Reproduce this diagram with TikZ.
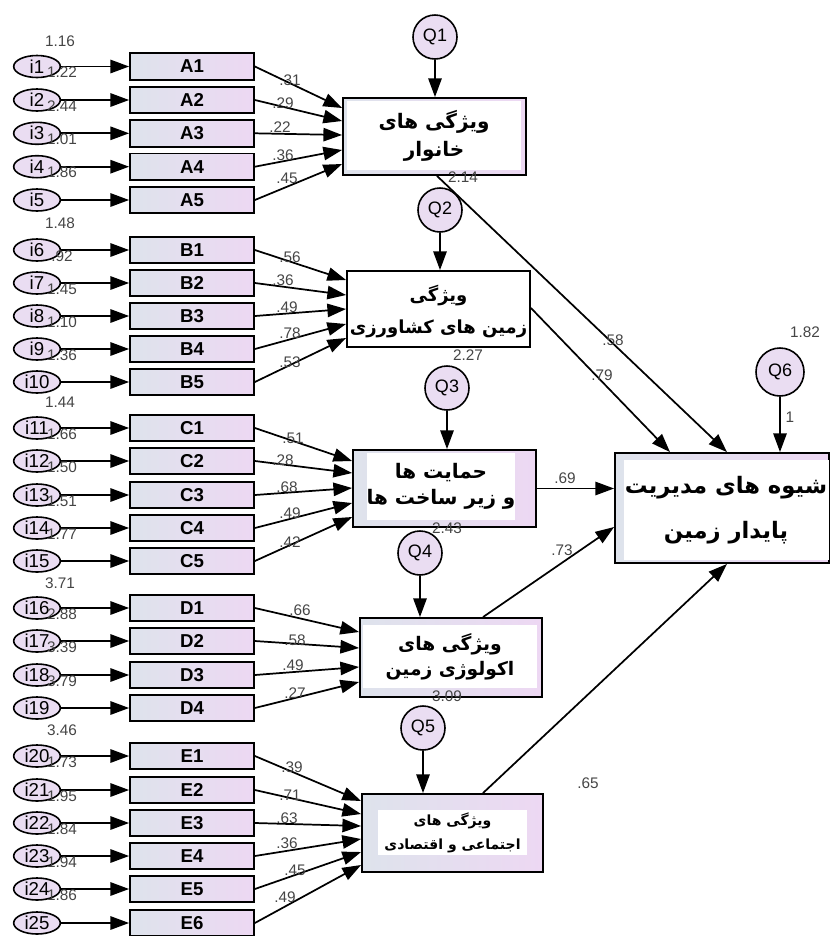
\documentclass[tikz,border=0pt]{standalone}
\usepackage{fontspec}
\setmainfont{Liberation Sans}
\newfontfamily\arfont[Script=Arabic]{DejaVu Sans}
\TeXXeTstate=1
\usetikzlibrary{arrows.meta,calc,shapes.geometric}
\definecolor{numc}{HTML}{454545}
\definecolor{obsL}{HTML}{DEE3EC}
\definecolor{obsR}{HTML}{EDD8F3}
\definecolor{lav}{HTML}{EADDF2}
\begin{document}
\begin{tikzpicture}[x=0.75pt,y=-0.75pt,
  obs/.style={draw, line width=1.3pt, minimum width=93pt, minimum height=20pt, inner sep=0pt,
    left color=obsL, right color=obsR, font=\fontsize{14}{14}\selectfont\bfseries},
  err/.style={ellipse, draw, line width=1.2pt, minimum width=35pt, minimum height=16.5pt, inner sep=0pt,
    fill=lav, font=\fontsize{14}{14}\selectfont},
  res/.style={circle, draw, line width=1.2pt, minimum size=33pt, inner sep=0pt, fill=lav,
    font=\fontsize{13.5}{13.5}\selectfont},
  lat/.style={draw, line width=1.4pt, inner sep=0pt, left color=obsL, right color=obsR},
  latw/.style={draw, line width=1.4pt, inner sep=0pt, fill=white},
  txt/.style={fill=white, inner sep=0pt, align=center},
  num/.style={text=numc, font=\fontsize{11.5}{11.5}\selectfont, inner sep=0pt},
  arr/.style={line width=1.3pt, -{Triangle[length=14pt,width=10pt]}},
]
\useasboundingbox (0,0) rectangle (830,936);

% observed variables and error terms
\foreach \k/\n/\y in {1/A1/66.5,2/A2/100,3/A3/133.3,4/A4/166.7,5/A5/200,
  6/B1/250,7/B2/283,8/B3/316,9/B4/349,10/B5/382,
  11/C1/428,12/C2/461,13/C3/495,14/C4/528,15/C5/561,
  16/D1/608,17/D2/641,18/D3/675,19/D4/708,
  20/E1/756,21/E2/790,22/E3/823,23/E4/856,24/E5/889,25/E6/923}{
  \node[err] (i\k) at (37,\y) {i\k};
  \node[obs] (\n) at (192,\y) {\n};
  \draw[arr] (i\k.east) -- (\n.west);
}

% latent boxes
\node[lat, minimum width=137.25pt, minimum height=57.75pt] (L1) at (434.5,136.5) {};
\node[txt, minimum width=130.5pt, minimum height=51.75pt, font=\arfont\bfseries\fontsize{15}{21}\selectfont] (L1t) at (434,135.5)
  {\beginR ویژگی های\endR\\\beginR خانوار\endR};

\node[latw, minimum width=137.25pt, minimum height=57pt] (L2) at (438.5,309) {};
\node[align=center, inner sep=0pt, font=\arfont\bfseries\fontsize{13.5}{24}\selectfont] (L2t) at (438.5,311.5)
  {\beginR ویژگی\endR\\\beginR زمین های کشاورزی\endR};

\node[lat, minimum width=137.25pt, minimum height=57.75pt] (L3) at (444.5,488.5) {};
\node[txt, minimum width=111pt, minimum height=50.25pt, font=\arfont\bfseries\fontsize{15}{20}\selectfont] (L3t) at (441,486.5)
  {\beginR حمایت ها\endR\\\beginR و زیر ساخت ها\endR};

\node[lat, minimum width=136.5pt, minimum height=59.25pt] (L4) at (451,657.5) {};
\node[txt, minimum width=130.5pt, minimum height=47.25pt, font=\arfont\bfseries\fontsize{14}{19}\selectfont] (L4t) at (450,656.5)
  {\beginR ویژگی های\endR\\\beginR اکولوژی زمین\endR};

\node[lat, minimum width=135.75pt, minimum height=58.5pt] (L5) at (452.5,833) {};
\node[txt, minimum width=111.75pt, minimum height=33.75pt, font=\arfont\bfseries\fontsize{10.5}{18}\selectfont] (L5t) at (452.5,832.5)
  {\beginR ویژگی های\endR\\\beginR اجتماعی و اقتصادی\endR};

\node[lat, minimum width=160.5pt, minimum height=82.5pt] (M) at (722,508) {};
\node[txt, minimum width=153.75pt, minimum height=75pt, font=\arfont\bfseries\fontsize{17}{34}\selectfont] (Mt) at (726,510)
  {\beginR شیوه های مدیریت\endR\\\beginR پایدار زمین\endR};

% residual circles
\node[res] (Q1) at (435,37) {Q1};
\node[res] (Q2) at (440,210) {Q2};
\node[res] (Q3) at (447,388) {Q3};
\node[res] (Q4) at (420,553) {Q4};
\node[res] (Q5) at (423,728) {Q5};
\node[res, minimum size=36pt] (Q6) at (780,372) {Q6};
\foreach \q/\l in {Q1/L1,Q2/L2,Q3/L3,Q4/L4,Q5/L5,Q6/M}{
  \draw[arr] (\q.south) -- (\q.south |- \l.north);
}

% loadings
\foreach \n/\t in {A1/108,A2/121,A3/135,A4/150,A5/164}{
  \draw[arr] (\n.east) -- ($(L1.west)+(0,{\t-136.5})$);}
\foreach \n/\t in {B1/280,B2/295,B3/309,B4/324,B5/338}{
  \draw[arr] (\n.east) -- ($(L2.west)+(0,{\t-309})$);}
\foreach \n/\t in {C1/461,C2/473,C3/488,C4/503,C5/517}{
  \draw[arr] (\n.east) -- ($(L3.west)+(0,{\t-488.5})$);}
\foreach \n/\t in {D1/632,D2/648,D3/667,D4/682}{
  \draw[arr] (\n.east) -- ($(L4.west)+(0,{\t-657.5})$);}
\foreach \n/\t in {E1/801,E2/814,E3/826,E4/839,E5/852,E6/865}{
  \draw[arr] (\n.east) -- ($(L5.west)+(0,{\t-833})$);}

% structural paths
\draw[arr] ($(L1.south)+(2.5,0)$) -- ($(M.north)+(5,0)$);
\draw[arr] ($(L2.east)+(0,-1)$) -- ($(M.north)+(-52,0)$);
\draw[arr] (L3.east) -- (L3.east -| M.west);
\draw[arr] ($(L4.north)+(32,0)$) -- ($(M.west)+(0,19)$);
\draw[arr] ($(L5.north)+(30.5,0)$) -- ($(M.south)+(5,0)$);

% loading labels
\foreach \n/\x/\y/\v in {A1/290/80/.31,A2/283/103/.29,A3/280/127/.22,A4/283/155/.36,A5/287/178/.45,
  B1/290/257/.56,B2/283/280/.36,B3/287/307/.49,B4/290/333/.78,B5/290/362/.53,
  C1/293/438/.51,C2/283/460/.28,C3/287/487/.68,C4/290/513/.49,C5/290/542/.42,
  D1/300/610/.66,D2/295/640/.58,D3/293/665/.49,D4/295/693/.27,
  E1/292/767/.39,E2/290/795/.71,E3/287/818/.63,E4/287/843/.36,E5/295/870/.45,E6/285/897/.49}{
  \node[num] (w\n) at (\x,\y) {\v};}

% error variance labels
\foreach \k/\v in {1/1.22,2/2.44,3/1.01,4/1.86,6/.92,7/1.45,8/1.10,9/1.36,
  11/1.66,12/1.50,13/1.51,14/1.77,16/2.88,17/3.39,18/3.79,
  20/1.73,21/1.95,22/1.84,23/1.94,24/1.86}{
  \node[num] (v\k) at ($(i\k)+(25,6)$) {\v};}
\node[num] (g1) at (60,41) {1.16};
\node[num] (g2) at (60,223) {1.48};
\node[num] (g3) at (60,402) {1.44};
\node[num] (g4) at (60,583) {3.71};
\node[num] (g5) at (62,730) {3.46};

% structural labels and variances
\node[num] (s1) at (613,340) {.58};
\node[num] (s2) at (602,375) {.79};
\node[num] (s3) at (565,478) {.69};
\node[num] (s4) at (562,550) {.73};
\node[num] (s5) at (588,783) {.65};
\node[num] (s6) at (805,332) {1.82};
\node[num] (s7) at (790,417) {1};
\node[num] (r1) at (463,177) {2.14};
\node[num] (r2) at (468,355) {2.27};
\node[num] (r3) at (447,528) {2.43};
\node[num] (r4) at (447,696) {3.09};
\end{tikzpicture}
\end{document}
